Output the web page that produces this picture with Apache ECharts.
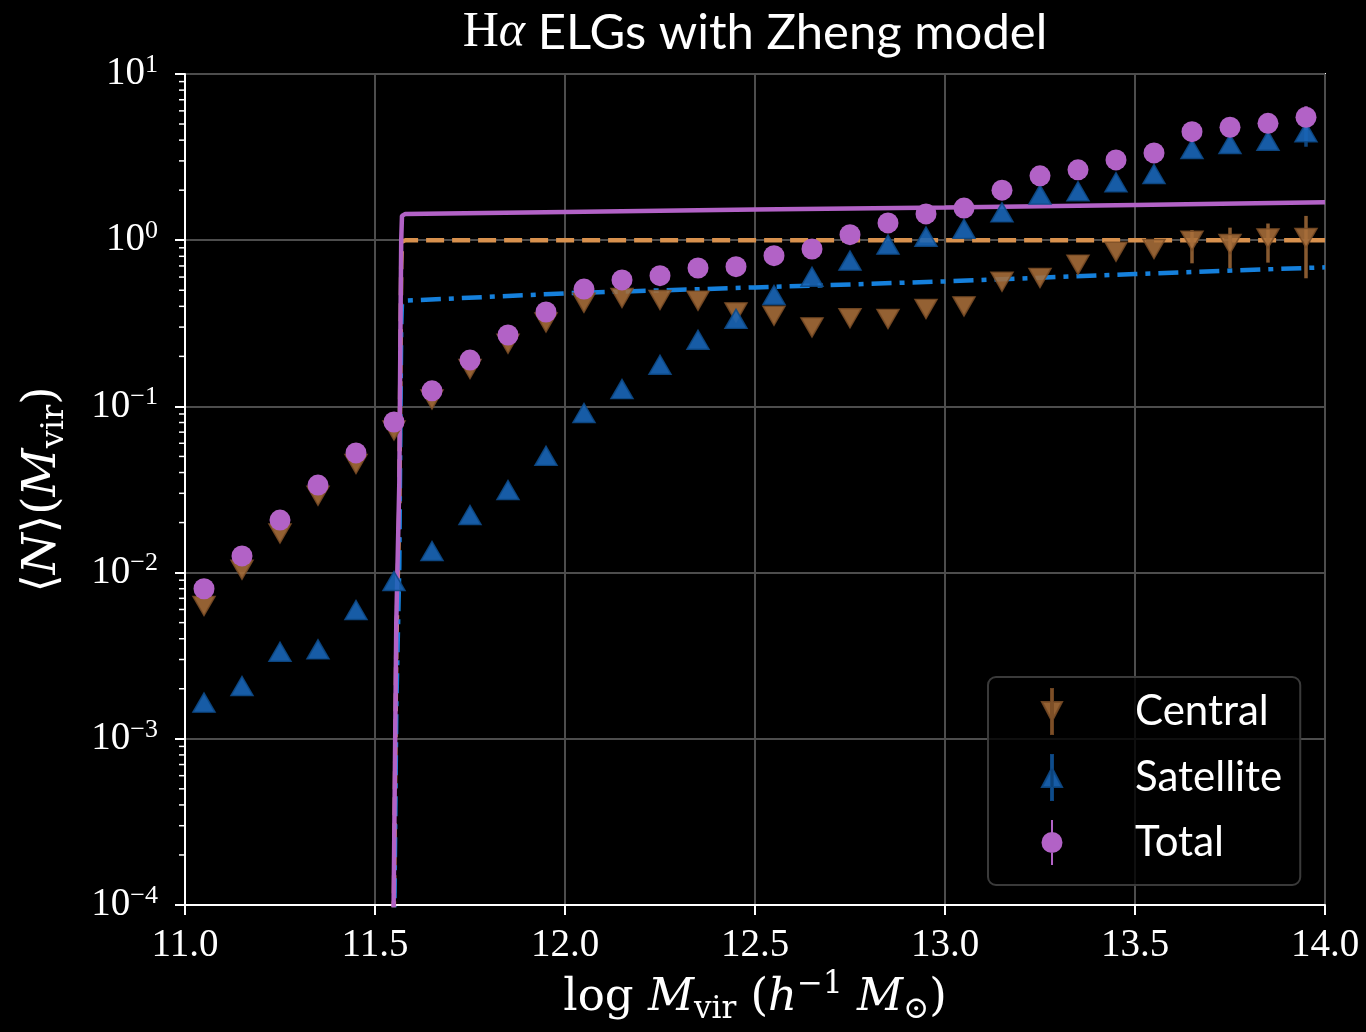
<!DOCTYPE html>
<html><head><meta charset="utf-8">
<script src="https://cdn.jsdelivr.net/npm/echarts@6/dist/echarts.min.js"></script>
<style>html,body{margin:0;padding:0;background:#000;} #c{width:1366px;height:1032px;}</style>
</head><body><div id="c"></div>
<script>
// ---- data ----
const massBins = [11.05,11.15,11.25,11.35,11.45,11.55,11.65,11.75,11.85,11.95,
                  12.05,12.15,12.25,12.35,12.45,12.55,12.65,12.75,12.85,12.95,
                  13.05,13.15,13.25,13.35,13.45,13.55,13.65,13.75,13.85,13.95];
const centralN = [0.0063,0.0104,0.0172,0.029,0.045,0.0717,0.110,0.168,0.238,0.320,
                  0.420,0.449,0.437,0.433,0.368,0.351,0.299,0.339,0.336,0.386,
                  0.400,0.562,0.593,0.713,0.853,0.885,0.993,0.949,1.026,1.03];
const satelliteN = [0.00165,0.00208,0.00334,0.00345,0.00596,0.0089,0.0135,0.0222,0.0314,0.0504,
                    0.0912,0.127,0.178,0.252,0.336,0.468,0.603,0.753,0.94,1.05,
                    1.17,1.47,1.88,1.97,2.23,2.50,3.54,3.79,3.97,4.46];
const totalN = [0.0080,0.0126,0.0207,0.0336,0.0525,0.0806,0.124,0.190,0.269,0.370,
                0.508,0.577,0.612,0.68,0.693,0.807,0.885,1.08,1.27,1.44,
                1.56,2.00,2.44,2.65,3.04,3.35,4.5,4.78,5.05,5.49];
// visible error bars: [mass, low, high]
const centralErr = [[13.65,0.726,1.15],[13.75,0.678,1.19],[13.85,0.733,1.26],[13.95,0.59,1.40]];
const satelliteErr = [[13.95,3.65,5.4]];
const totalErr = [[13.95,4.6,6.4]];
// Zheng model curves
const modelMass      = [11.545,11.549,11.556,11.564,11.567,11.569,11.571,11.58,12.0,12.5,13.0,13.5,14.0];
const modelCentral   = [0.00004,0.00007,0.0035,0.025,0.21,0.70,0.98,1.0,1.0,1.0,1.0,1.0,1.0];
const modelSatellite = [0.00002,0.00003,0.0015,0.011,0.09,0.30,0.42,0.433,0.479,0.52,0.565,0.626,0.687];
const modelTotal     = [0.00006,0.0001,0.005,0.035,0.30,1.00,1.40,1.44,1.48,1.53,1.575,1.63,1.69];
const xTicks = [11.0,11.5,12.0,12.5,13.0,13.5,14.0];
const yMin = 1e-4, yMax = 10;

const C_CEN = '#a96e3a', C_CEN_LINE = '#d8914e';
const C_SAT = '#1a66b8', C_SAT_LINE = '#1580dc';
const C_TOT = '#b262c6';

const minorVals = [];
for (let e = -4; e < 1; e++) for (let m = 2; m <= 9; m++) minorVals.push([11, m * Math.pow(10, e)]);

const pairs = (xs, ys) => xs.map((x, i) => [x, ys[i]]);

function errSeries(name, data, color) {
  return {
    type: 'custom', name: name, data: data, z: 3, silent: true,
    encode: {x: 0, y: [1, 2]},
    renderItem: (p, api) => {
      const a = api.coord([api.value(0), api.value(1)]);
      const b = api.coord([api.value(0), api.value(2)]);
      return {type: 'line', shape: {x1: a[0], y1: a[1], x2: b[0], y2: b[1]},
              style: {stroke: color, lineWidth: 3.5, opacity: 0.85}};
    }
  };
}

const serif = 'Liberation Serif';
const mathSerif = 'DejaVu Serif';
const sans = 'Lato';

const chart = echarts.init(document.getElementById('c'), null, {renderer: 'canvas'});
chart.setOption({
  backgroundColor: '#000',
  animation: false,
  graphic: [{
    type: 'text', x: 755, y: 8, z: 10,
    style: {
      text: '{h|H}{a|α}{s| ELGs with Zheng model}',
      align: 'center', verticalAlign: 'top',
      rich: {
        h: {fontFamily: serif, fontSize: 50, fill: '#fff'},
        a: {fontFamily: serif, fontStyle: 'italic', fontSize: 50, fill: '#fff'},
        s: {fontFamily: sans, fontSize: 49, fill: '#fff'}
      }
    }
  }],
  grid: {left: 185, right: 41, top: 74, bottom: 127, show: true, borderColor: '#fff', borderWidth: 2, backgroundColor: 'transparent'},
  legend: {
    left: 988, top: 677, orient: 'vertical',
    data: [
      {name: 'Central', icon: 'path://M9,0L11,0L11,45L9,45Z M0,13L20,13L10,32Z'},
      {name: 'Satellite', icon: 'path://M9,0L11,0L11,45L9,45Z M0,32L20,32L10,13Z'},
      {name: 'Total', icon: 'path://M9,0L11,0L11,45L9,45Z M10,12A10.5,10.5,0,1,1,9.99,12Z'}
    ],
    itemWidth: 22, itemHeight: 45, itemGap: 19,
    padding: [11, 18, 20, 53],
    backgroundColor: 'rgba(0,0,0,0.8)', borderColor: '#3a3a3a', borderWidth: 2, borderRadius: 8,
    textStyle: {color: '#fff', fontFamily: sans, fontSize: 42, padding: [0, 0, 0, 67]},
    selectedMode: false
  },
  xAxis: {
    type: 'value', min: 11, max: 14, interval: 0.5,
    axisLine: {show: true, lineStyle: {color: '#fff', width: 2}},
    axisTick: {show: true, length: 10, lineStyle: {color: '#fff', width: 2}},
    axisLabel: {color: '#fff', fontFamily: serif, fontSize: 39, margin: 21,
                formatter: v => xTicks.includes(v) ? v.toFixed(1) : ''},
    splitLine: {show: true, lineStyle: {color: '#4d4d4d', width: 2}},
    name: '{r|log }{i|M}{sb|vir}{r| (}{i|h}{sp|−1}{r| }{i|M}{sb|⊙}{r|)}',
    nameLocation: 'middle', nameGap: 62,
    nameTextStyle: {color: '#fff', rich: {
      r: {fontFamily: mathSerif, fontSize: 45, color: '#fff', lineHeight: 56},
      i: {fontFamily: mathSerif, fontStyle: 'italic', fontSize: 45, color: '#fff', lineHeight: 56},
      sb: {fontFamily: mathSerif, fontSize: 31, color: '#fff', verticalAlign: 'bottom', lineHeight: 56},
      sp: {fontFamily: mathSerif, fontSize: 31, color: '#fff', verticalAlign: 'top', lineHeight: 56}
    }}
  },
  yAxis: {
    type: 'log', logBase: 10, min: yMin, max: yMax, splitNumber: 5,
    axisLine: {show: true, lineStyle: {color: '#fff', width: 2}},
    axisTick: {show: true, length: 10, lineStyle: {color: '#fff', width: 2}},
    axisLabel: {color: '#fff', margin: 27,
      formatter: v => { const e = Math.round(Math.log10(v)); const s = e < 0 ? '\u2212' + (-e) : String(e); return '{b|10}{s|' + s + '}'; },
      rich: {
        b: {fontFamily: serif, fontSize: 39, color: '#fff', lineHeight: 44},
        s: {fontFamily: serif, fontSize: 26, color: '#fff', verticalAlign: 'top', lineHeight: 44}
      }
    },
    splitLine: {show: true, lineStyle: {color: '#4d4d4d', width: 2}},
    name: '{r|⟨}{i|N}{r|⟩(}{i|M}{sb|vir}{r|)}',
    nameLocation: 'middle', nameRotate: 90, nameGap: 114,
    nameTextStyle: {color: '#fff', rich: {
      r: {fontFamily: mathSerif, fontSize: 47, color: '#fff', lineHeight: 56},
      i: {fontFamily: mathSerif, fontStyle: 'italic', fontSize: 47, color: '#fff', lineHeight: 56},
      sb: {fontFamily: mathSerif, fontSize: 32, color: '#fff', verticalAlign: 'bottom', lineHeight: 56}
    }}
  },
  series: [
    {type: 'custom', name: 'minor ticks', silent: true, clip: false, data: minorVals, z: 1,
     encode: {x: 0, y: 1},
     renderItem: (p, api) => { const c = api.coord([api.value(0), api.value(1)]);
       return {type: 'line', shape: {x1: c[0] - 6, y1: c[1], x2: c[0], y2: c[1]}, style: {stroke: '#fff', lineWidth: 1.5}}; }},
    {type: 'line', name: 'Central model', data: pairs(modelMass, modelCentral), showSymbol: false, z: 2, clip: true,
     lineStyle: {color: C_CEN_LINE, width: 4.5, type: [18, 8]}},
    {type: 'line', name: 'Satellite model', data: pairs(modelMass, modelSatellite), showSymbol: false, z: 2, clip: true,
     lineStyle: {color: C_SAT_LINE, width: 4.5, type: [20, 8, 5, 8]}},
    {type: 'line', name: 'Total model', data: pairs(modelMass, modelTotal), showSymbol: false, z: 2, clip: true,
     lineStyle: {color: C_TOT, width: 4.5}},
    errSeries('Central err', centralErr, '#a06a38'),
    {type: 'scatter', name: 'Central', data: pairs(massBins, centralN), z: 4,
     symbol: 'triangle', symbolRotate: 180, symbolSize: [22, 19],
     itemStyle: {color: C_CEN, borderColor: '#7a4c25', borderWidth: 1.5, opacity: 0.88}},
    errSeries('Satellite err', satelliteErr, '#12508f'),
    {type: 'scatter', name: 'Satellite', data: pairs(massBins, satelliteN), z: 5,
     symbol: 'triangle', symbolSize: [22, 19],
     itemStyle: {color: C_SAT, borderColor: '#0d4a88', borderWidth: 1.5, opacity: 0.9}},
    errSeries('Total err', totalErr, C_TOT),
    {type: 'scatter', name: 'Total', data: pairs(massBins, totalN), z: 6,
     symbol: 'circle', symbolSize: 21,
     itemStyle: {color: C_TOT, opacity: 1}}
  ]
});
</script>
</body></html>
